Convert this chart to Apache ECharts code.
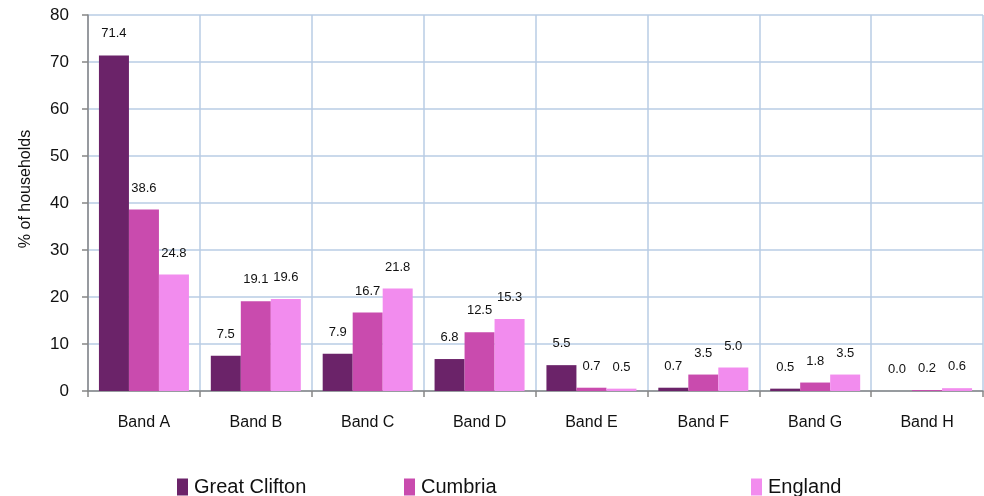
<!DOCTYPE html>
<html>
<head>
<meta charset="utf-8">
<script src="https://cdn.jsdelivr.net/npm/echarts@6/dist/echarts.min.js"></script>
<style>html,body{margin:0;padding:0;background:#fff;}#c{width:984px;height:496px;}</style>
</head>
<body>
<div id="c"></div>
<script>
const categories = ['Band A','Band B','Band C','Band D','Band E','Band F','Band G','Band H'];
const greatClifton = [71.4, 7.5, 7.9, 6.8, 5.5, 0.7, 0.5, 0.0];
const cumbria = [38.6, 19.1, 16.7, 12.5, 0.7, 3.5, 1.8, 0.2];
const england = [24.8, 19.6, 21.8, 15.3, 0.5, 5.0, 3.5, 0.6];
const seriesNames = ['Great Clifton','Cumbria','England'];
const colors = ['#6b2369','#c94bae','#f28cee'];
const yTicks = [0,10,20,30,40,50,60,70,80];

const font = 'Liberation Sans, Arial, sans-serif';
const chart = echarts.init(document.getElementById('c'));
const lbl = {
  show: true, position: 'top', distance: 15,
  fontFamily: font, fontSize: 13, color: '#111',
  formatter: p => p.value.toFixed(1)
};
function mk(name, data, color) {
  return { name, type: 'bar', data, barWidth: 30, barGap: '0%',
    itemStyle: { color }, label: lbl, emphasis: { disabled: true } };
}
function legendAt(name, left) {
  return { show: true, data: [name], left, top: 472, itemWidth: 11, itemHeight: 17,
    icon: 'rect', textStyle: { fontFamily: font, fontSize: 20, color: '#111', padding: [0,0,0,1] } };
}
chart.setOption({
  animation: false,
  grid: { left: 88, right: 1, top: 15, bottom: 105, containLabel: false },
  legend: [legendAt(seriesNames[0], 172), legendAt(seriesNames[1], 399), legendAt(seriesNames[2], 746)],
  xAxis: {
    type: 'category', data: categories,
    axisLine: { lineStyle: { color: '#868686', width: 1.5 } },
    axisTick: { show: true, length: 6, lineStyle: { color: '#868686', width: 1.5 } },
    axisLabel: { fontFamily: font, fontSize: 16, color: '#111', margin: 24 },
    splitLine: { show: true, lineStyle: { color: '#b9cde5', width: 1.5 } }
  },
  yAxis: {
    type: 'value', min: yTicks[0], max: yTicks[yTicks.length-1], interval: 10,
    axisLine: { show: true, lineStyle: { color: '#868686', width: 1.5 } },
    axisTick: { show: true, length: 6, lineStyle: { color: '#868686', width: 1.5 } },
    axisLabel: { fontFamily: font, fontSize: 17, color: '#111', margin: 19 },
    splitLine: { show: true, lineStyle: { color: '#b9cde5', width: 1.5 } }
  },
  graphic: [{
    type: 'text', x: 26, y: 189, rotation: Math.PI/2,
    style: { text: '% of households', font: '16px ' + font, fill: '#111', textAlign: 'center', textVerticalAlign: 'middle' }
  }],
  series: [
    mk(seriesNames[0], greatClifton, colors[0]),
    mk(seriesNames[1], cumbria, colors[1]),
    mk(seriesNames[2], england, colors[2])
  ]
});
</script>
</body>
</html>
